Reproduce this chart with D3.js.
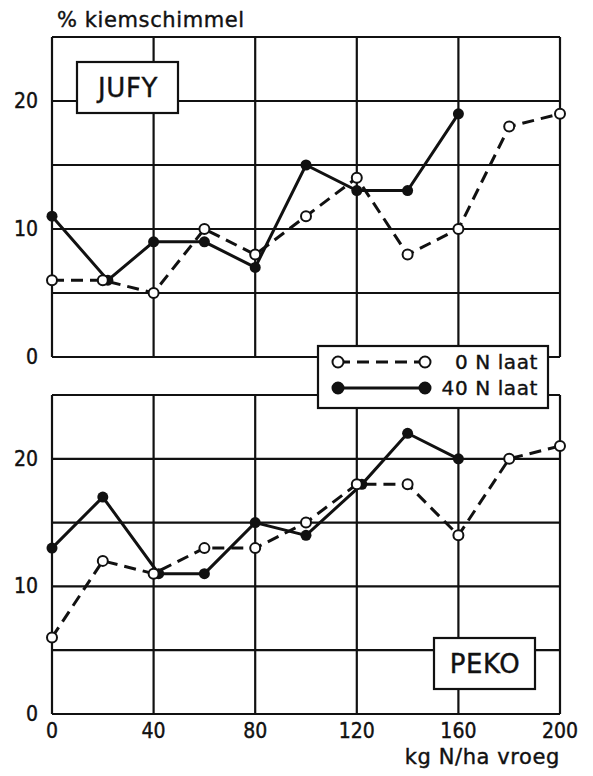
<!DOCTYPE html>
<html>
<head>
<meta charset="utf-8">
<script src="https://cdn.jsdelivr.net/npm/d3@7"></script>
<style>
  body { margin: 0; background: #fff; }
  text { font-family: "DejaVu Sans Condensed", "DejaVu Sans", sans-serif; fill: #111; stroke: #111; stroke-width: 0.4; }
  text.word { font-family: "DejaVu Sans", sans-serif; letter-spacing: 0.6px; }
</style>
</head>
<body>
<svg width="593" height="776"></svg>
<script>
// kg N/ha vroeg
const doses = [0, 20, 40, 60, 80, 100, 120, 140, 160, 180, 200];
// JUFY
const jufy0 = [6, 6, 5, 10, 8, 11, 14, 8, 10, 18, 19];
const jufy40x = [0, 22, 40, 60, 80, 100, 120, 140, 160];
const jufy40 = [11, 6, 9, 9, 7, 15, 13, 13, 19];
// PEKO
const peko0 = [6, 12, 11, 13, 13, 15, 18, 18, 14, 20, 21];
const peko40x = [0, 20, 42, 60, 80, 100, 122, 140, 160];
const peko40 = [13, 17, 11, 11, 15, 14, 18, 22, 20];

const xTicks = [0, 40, 80, 120, 160, 200];
const yGrid = [0, 5, 10, 15, 20, 25];
const yLabels = [0, 10, 20];

const svg = d3.select("svg");

const x = d3.scaleLinear().domain([0, 200]).range([52, 560]);

const panels = [
    {name: "JUFY", y: d3.scaleLinear().domain([0, 25]).range([357, 37]),
        open: doses.map((d, i) => [d, jufy0[i]]),
        filled: jufy40x.map((d, i) => [d, jufy40[i]]),
        box: [77, 62]},
    {name: "PEKO", y: d3.scaleLinear().domain([0, 25]).range([714, 395]),
        open: doses.map((d, i) => [d, peko0[i]]),
        filled: peko40x.map((d, i) => [d, peko40[i]]),
        box: [434, 638]}
];

const line = (y) => d3.line().x(d => x(d[0])).y(d => y(d[1]));

panels.forEach(p => {
    const g = svg.append("g");
    // grid
    g.selectAll("line.h").data(yGrid).enter().append("line")
        .attr("x1", x(0)).attr("x2", x(200))
        .attr("y1", d => p.y(d)).attr("y2", d => p.y(d))
        .attr("stroke", "#111").attr("stroke-width", 2.2);
    g.selectAll("line.v").data(xTicks).enter().append("line")
        .attr("x1", d => x(d)).attr("x2", d => x(d))
        .attr("y1", p.y(0)).attr("y2", p.y(25))
        .attr("stroke", "#111").attr("stroke-width", 2.2);

    g.selectAll("text.yl").data(yLabels).enter().append("text")
        .attr("x", 38).attr("y", d => p.y(d) + 7)
        .attr("text-anchor", "end").attr("font-size", 21)
        .text(d => d);

    // name box
    g.append("rect").attr("x", p.box[0]).attr("y", p.box[1])
        .attr("width", 101).attr("height", 51)
        .attr("fill", "#fff").attr("stroke", "#111").attr("stroke-width", 2.2);
    g.append("text").attr("class", "word").attr("x", p.box[0] + 51).attr("y", p.box[1] + 35)
        .attr("text-anchor", "middle").attr("font-size", 26)
        .text(p.name);

    // series
    g.append("path").datum(p.open).attr("d", line(p.y))
        .attr("fill", "none").attr("stroke", "#111").attr("stroke-width", 3)
        .attr("stroke-dasharray", "12,7");
    g.append("path").datum(p.filled).attr("d", line(p.y))
        .attr("fill", "none").attr("stroke", "#111").attr("stroke-width", 3);
    g.selectAll("circle.f").data(p.filled).enter().append("circle")
        .attr("cx", d => x(d[0])).attr("cy", d => p.y(d[1])).attr("r", 5.5)
        .attr("fill", "#111");
    g.selectAll("circle.o").data(p.open).enter().append("circle")
        .attr("cx", d => x(d[0])).attr("cy", d => p.y(d[1])).attr("r", 5)
        .attr("fill", "#fff").attr("stroke", "#111").attr("stroke-width", 2);
});

// x axis labels
svg.selectAll("text.xl").data(xTicks).enter().append("text")
    .attr("x", d => x(d)).attr("y", 738)
    .attr("text-anchor", "middle").attr("font-size", 21)
    .text(d => d);

svg.append("text").attr("class", "word").attr("x", 560).attr("y", 764).attr("text-anchor", "end")
    .attr("font-size", 21).text("kg N/ha vroeg");
svg.append("text").attr("class", "word").attr("x", 57).attr("y", 27)
    .attr("font-size", 21).text("% kiemschimmel");

// legend
const legend = svg.append("g");
legend.append("rect").attr("x", 318).attr("y", 346).attr("width", 230).attr("height", 62)
    .attr("fill", "#fff").attr("stroke", "#111").attr("stroke-width", 2.2);
const legItems = [
    {label: "0 N laat", dash: "12,7", fill: "#fff"},
    {label: "40 N laat", dash: null, fill: "#111"}
];
legItems.forEach((it, i) => {
    const yy = 362 + i * 26;
    legend.append("line").attr("x1", 338).attr("x2", 425).attr("y1", yy).attr("y2", yy)
        .attr("stroke", "#111").attr("stroke-width", 3)
        .attr("stroke-dasharray", it.dash);
    [338, 425].forEach(cx => legend.append("circle").attr("cx", cx).attr("cy", yy).attr("r", 5.5)
        .attr("fill", it.fill).attr("stroke", "#111").attr("stroke-width", 2));
    legend.append("text").attr("class", "word").attr("x", 538).attr("y", yy + 7).attr("text-anchor", "end")
        .attr("font-size", 20).text(it.label);
});
</script>
</body>
</html>
